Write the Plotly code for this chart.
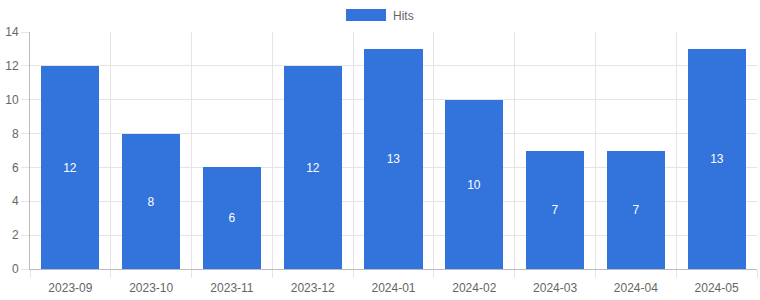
import plotly.graph_objects as go

months = ["2023-09", "2023-10", "2023-11", "2023-12", "2024-01", "2024-02", "2024-03", "2024-04", "2024-05"]
hits = [12, 8, 6, 12, 13, 10, 7, 7, 13]
series_name = "Hits"
bar_color = "#3273DC"

xs = list(range(len(months)))
fig = go.Figure()
fig.add_trace(go.Bar(
    x=xs, y=hits, name=series_name, width=0.72,
    marker=dict(color=bar_color, line=dict(width=0)),
    text=[str(v) for v in hits], textposition="inside", insidetextanchor="middle",
    textfont=dict(color="white", size=12, family="Liberation Sans, Arial"),
    showlegend=False, hoverinfo="x+y",
))

grid = "#e5e5e5"
fig.update_layout(
    width=760, height=300,
    margin=dict(l=30, r=3, t=32, b=31),
    paper_bgcolor="white", plot_bgcolor="white",
    font=dict(family="Liberation Sans, Arial", size=12, color="#666"),
    bargap=0,
    xaxis=dict(
        range=[-0.5, len(months) - 0.5],
        tickmode="array", tickvals=xs, ticktext=months,
        showgrid=False, ticks="", zeroline=False,
        showline=True, linecolor="#bbb", linewidth=1,
        ticklabelstandoff=8,
        minor=dict(tickmode="array", tickvals=[i - 0.5 for i in range(len(months) + 1)],
                   showgrid=True, gridcolor=grid, gridwidth=1,
                   ticks="outside", ticklen=8, tickcolor=grid),
        tickfont=dict(size=12, color="#666"),
        fixedrange=True,
    ),
    yaxis=dict(
        range=[0, 14], dtick=2, showgrid=True, gridcolor=grid, gridwidth=1,
        ticks="outside", ticklen=8, tickcolor=grid, zeroline=False,
        showline=True, linecolor="#bbb", linewidth=1,
        tickfont=dict(size=12, color="#666"),
        fixedrange=True,
    ),
)

fig.add_shape(type="rect", xref="paper", yref="paper",
              x0=0.4347, x1=0.4897, y0=1.046, y1=1.097,
              fillcolor=bar_color, line=dict(width=0))
fig.add_annotation(xref="paper", yref="paper", x=0.497, y=1.068,
                   text=series_name, showarrow=False, xanchor="left", yanchor="middle",
                   font=dict(size=12, color="#666"))

fig.write_html("out.html")
